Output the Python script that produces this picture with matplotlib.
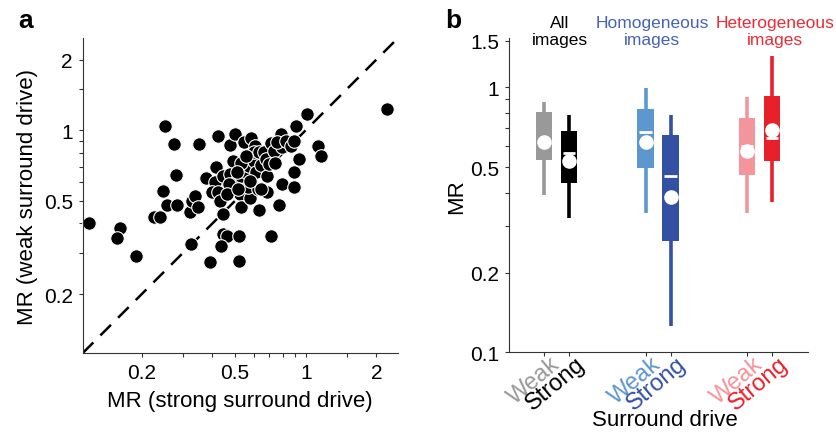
import matplotlib
matplotlib.use("Agg")
import matplotlib.pyplot as plt
import numpy as np

plt.rcParams['font.family'] = ['Liberation Sans', 'DejaVu Sans']

# ---- 面板 a：散点数据（强/弱周边驱动下的 MR）----
mr_strong = [0.119, 0.161, 0.157, 0.189, 0.226, 0.239, 0.247, 0.255, 0.282, 0.251,
             0.274, 0.280, 0.351, 0.322, 0.326, 0.338, 0.346, 0.324, 0.375, 0.392,
             0.414, 0.411, 0.423, 0.397, 0.421, 0.431, 0.442, 0.442, 0.460, 0.435,
             0.446, 0.476, 0.476, 0.500, 0.492, 0.480, 0.520, 0.520, 0.525, 0.532,
             0.504, 0.529, 0.543, 0.587, 0.607, 0.579, 0.565, 0.556, 0.574, 0.599,
             0.612, 0.623, 0.603, 0.633, 0.644, 0.633, 0.665, 0.676, 0.687, 0.687,
             0.710, 0.698, 0.733, 0.738, 0.710, 0.773, 0.796, 0.783, 0.796, 0.758,
             0.822, 0.863, 0.892, 0.887, 0.887, 0.936, 0.913, 1.016, 1.133, 1.166,
             2.228, 0.529, 0.508, 0.579, 0.556, 0.469, 0.464, 0.644, 0.512]
mr_weak = [0.401, 0.384, 0.346, 0.290, 0.428, 0.425, 0.552, 0.481, 0.480, 1.043,
           0.875, 0.645, 0.875, 0.446, 0.500, 0.525, 0.469, 0.327, 0.623, 0.274,
           0.694, 0.599, 0.946, 0.543, 0.543, 0.500, 0.439, 0.361, 0.353, 0.322,
           0.639, 0.650, 0.866, 0.961, 0.736, 0.561, 0.355, 0.278, 0.534, 0.469,
           0.599, 0.639, 0.887, 0.922, 0.858, 0.512, 0.570, 0.661, 0.705, 0.740,
           0.661, 0.561, 0.804, 0.804, 0.710, 0.458, 0.804, 0.753, 0.639, 0.547,
           0.880, 0.717, 0.816, 0.728, 0.355, 0.480, 0.589, 0.961, 0.844, 0.887,
           0.900, 0.858, 0.900, 0.661, 0.570, 0.753, 1.043, 1.170, 0.858, 0.773,
           1.237, 0.728, 0.661, 0.608, 0.777, 0.589, 0.534, 0.561, 0.561]

# ---- 面板 b：箱线图统计量（顺序：全部弱/强，均匀弱/强，非均匀弱/强）----
group_titles = ['All\nimages', 'Homogeneous\nimages', 'Heterogeneous\nimages']
title_colors = ['black', '#4463b5', '#ee2a35']
drive_labels = ['Weak', 'Strong', 'Weak', 'Strong', 'Weak', 'Strong']
box_colors = ['#999999', '#000000', '#5d97d0', '#3350a3', '#f4959c', '#e8202a']
whisk_lo = [0.392, 0.321, 0.335, 0.126, 0.336, 0.370]
q1 = [0.532, 0.436, 0.496, 0.264, 0.468, 0.526]
medians = [0.630, 0.565, 0.676, 0.462, 0.602, 0.642]
q3 = [0.805, 0.686, 0.830, 0.661, 0.764, 0.930]
whisk_hi = [0.877, 0.788, 0.994, 0.786, 0.922, 1.310]
means = [0.620, 0.528, 0.624, 0.385, 0.576, 0.690]

fig = plt.figure(figsize=(8.36, 4.35), dpi=100)
spine_col = '#333333'

# ================= 面板 a =================
ax1 = fig.add_axes([0.0989, 0.186, 0.377, 0.724])
lims = (0.112, 2.47)
ax1.plot(lims, lims, ls=(0, (6, 4)), color='black', lw=1.8, zorder=1)
ax1.scatter(mr_strong, mr_weak, s=95, c='black', edgecolors='white',
            linewidths=0.8, zorder=2, clip_on=False)
ax1.set_xscale('log')
ax1.set_yscale('log')
ax1.set_xlim(lims)
ax1.set_ylim(lims)
major = [0.2, 0.5, 1, 2]
minor = [0.3, 0.4, 0.6, 0.7, 0.8, 0.9, 1.5]
for axis in (ax1.xaxis, ax1.yaxis):
    axis.set_major_locator(matplotlib.ticker.FixedLocator(major))
    axis.set_major_formatter(matplotlib.ticker.FixedFormatter(['0.2', '0.5', '1', '2']))
    axis.set_minor_locator(matplotlib.ticker.FixedLocator(minor))
    axis.set_minor_formatter(matplotlib.ticker.NullFormatter())
ax1.tick_params(which='both', length=3, width=0.8, color=spine_col,
                labelsize=15, pad=4)
ax1.set_xlabel('MR (strong surround drive)', fontsize=16, labelpad=6)
ax1.set_ylabel('MR (weak surround drive)', fontsize=16, labelpad=4)
for side in ('top', 'right'):
    ax1.spines[side].set_visible(False)
for side in ('left', 'bottom'):
    ax1.spines[side].set_color(spine_col)
fig.text(0.022, 0.935, 'a', fontsize=19, fontweight='bold')

# ================= 面板 b =================
ax2 = fig.add_axes([0.609, 0.1878, 0.3577, 0.7218])
pos = [0, 1, 4.06, 5.06, 8.12, 9.12]
bw = 0.66
ax2.vlines(pos, whisk_lo, whisk_hi, colors=box_colors, lw=2.6, zorder=1)
ax2.bar(pos, np.array(q3) - np.array(q1), bottom=q1, width=bw,
        color=box_colors, zorder=2)
ax2.hlines(medians, np.array(pos) - bw * 0.38, np.array(pos) + bw * 0.38,
           colors='white', lw=2.0, zorder=3)
ax2.plot(pos, means, 'o', ms=10.5, color='white', mec='none', zorder=4)
ax2.set_yscale('log')
ax2.set_ylim(0.1, 1.53)
ax2.set_xlim(-1.4, 10.56)
ax2.yaxis.set_major_locator(matplotlib.ticker.FixedLocator([0.1, 0.2, 0.5, 1, 1.5]))
ax2.yaxis.set_major_formatter(matplotlib.ticker.FixedFormatter(['0.1', '0.2', '0.5', '1', '1.5']))
ax2.yaxis.set_minor_locator(matplotlib.ticker.FixedLocator([0.3, 0.4, 0.6, 0.7, 0.8, 0.9]))
ax2.yaxis.set_minor_formatter(matplotlib.ticker.NullFormatter())
ax2.set_xticks(pos)
ax2.set_xticklabels([])
ax2.tick_params(which='both', length=3, width=0.8, color=spine_col,
                labelsize=15, pad=4)
ax2.set_ylabel('MR', fontsize=16, labelpad=2)
for side in ('top', 'right'):
    ax2.spines[side].set_visible(False)
for side in ('left', 'bottom'):
    ax2.spines[side].set_color(spine_col)

# 旋转的 Weak / Strong 标签
for p, lab, col in zip(pos, drive_labels, box_colors):
    ax2.annotate(lab, xy=(p, 0), xycoords=('data', 'axes fraction'),
                 xytext=(4, 0), textcoords='offset points',
                 rotation=40, rotation_mode='anchor', ha='right', va='top',
                 fontsize=17, color=col)
fig.text(665 / 836, 1 - 421 / 435, 'Surround drive',
         ha='center', va='center', fontsize=16)

# 组标题（位置按原图像素估计）
title_px = [560, 652, 775]
for tx, t, col in zip(title_px, group_titles, title_colors):
    fig.text(tx / 836, 1 - 16 / 435, t, ha='center', va='top',
             fontsize=12.5, color=col, linespacing=1.15)
fig.text(0.532, 0.935, 'b', fontsize=19, fontweight='bold')

fig.savefig('out.png', dpi=100)
